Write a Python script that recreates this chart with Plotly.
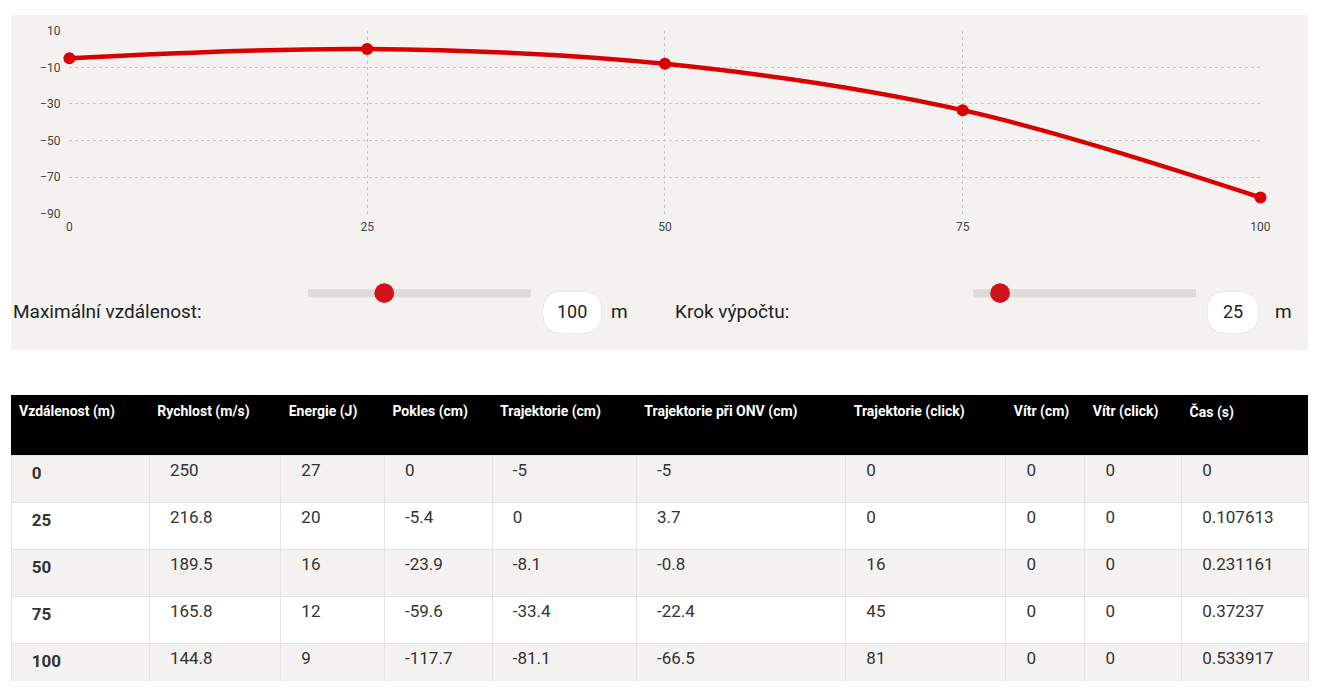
import plotly.graph_objects as go
import re

W, H = 1310, 681   # page body margin of 8px is accounted for in px/py
distance = [0, 25, 50, 75, 100]
trajectory = [-5, 0, -8.1, -33.4, -81.1]
speed = [250, 216.8, 189.5, 165.8, 144.8]
energy = [27, 20, 16, 12, 9]
drop = [0, -5.4, -23.9, -59.6, -117.7]
traj_onv = [-5, 3.7, -0.8, -22.4, -66.5]
traj_click = [0, 0, 16, 45, 81]
wind_cm = [0, 0, 0, 0, 0]
wind_click = [0, 0, 0, 0, 0]
time_s = [0, 0.107613, 0.231161, 0.37237, 0.533917]
headers = ["Vzdálenost (m)", "Rychlost (m/s)", "Energie (J)", "Pokles (cm)", "Trajektorie (cm)",
           "Trajektorie při ONV (cm)", "Trajektorie (click)", "Vítr (cm)", "Vítr (click)", "Čas (s)"]
y_ticks = [10, -10, -30, -50, -70, -90]

def px(x): return max(0.0, min(1.0, (x - 8) / W))
def py(y): return max(0.0, min(1.0, 1 - (y - 8) / H))

FONT = "Roboto, sans-serif"
fig = go.Figure()
fig.add_trace(go.Scatter(x=distance, y=trajectory, mode="lines+markers",
                         line=dict(color="#d90000", width=4.5, shape="spline"),
                         marker=dict(color="#d90000", size=12), cliponaxis=False,
                         showlegend=False, hoverinfo="skip"))

pad = "\u00a0" * 3
cols = [distance, speed, energy, drop, trajectory, traj_onv, traj_click, wind_cm, wind_click, time_s]
cells = [[pad + ("<b>%s</b>" % v if i == 0 else str(v)) for v in c] for i, c in enumerate(cols)]
widths = [140, 133, 105, 109, 146, 212, 162, 80, 98, 128]
fills = [["#f3f2f1", "#ffffff", "#f3f2f1", "#ffffff", "#f3f2f1"]] * 10
fig.add_trace(go.Table(
    domain=dict(x=[px(5), px(1318)], y=[py(692), py(396)]),
    columnwidth=widths,
    header=dict(values=["<b>%s</b>" % h.replace(" ", "\u00a0") for h in headers], fill_color="black", height=60,
                font=dict(color="white", size=14, family=FONT), align="left", line=dict(width=0, color="black")),
    cells=dict(values=cells, fill_color=fills, height=47, align="left",
               font=dict(color="#333333", size=17, family=FONT), line=dict(color="#e6e4e1", width=1)),
))

shapes = [dict(type="rect", xref="paper", yref="paper", x0=px(5), x1=px(1318), y0=py(350), y1=py(5),
               fillcolor="#f3f2f1", line_width=0, layer="below")]
for (a, b, k) in [(308, 533, 385), (980, 1205, 1007)]:
    shapes.append(dict(type="line", xref="paper", yref="paper", x0=px(a), x1=px(b), y0=py(292), y1=py(292),
                       line=dict(color="#dedbd6", width=8)))
    shapes.append(dict(type="circle", xref="paper", yref="paper", x0=px(k - 10), x1=px(k + 10),
                       y0=py(302), y1=py(282), fillcolor="#d0121b", line_width=0))
for (a, b) in [(545, 605), (1216, 1268)]:
    r = 20
    path = (f"M {a+r},{290} L {b-r},{290} Q {b},{290} {b},{290+r} L {b},{333-r} Q {b},{333} {b-r},{333} "
            f"L {a+r},{333} Q {a},{333} {a},{333-r} L {a},{290+r} Q {a},{290} {a+r},{290} Z")
    def conv(m):
        x, y = float(m.group(1)), float(m.group(2))
        return f"{px(x)},{py(y)}"
    path = re.sub(r"([\d.]+),([\d.]+)", conv, path)
    shapes.append(dict(type="path", xref="paper", yref="paper", path=path, fillcolor="white",
                       line=dict(color="#e8e6e3", width=1)))

ann = []
def t(x, y, s, size=19, anchor="left"):
    ann.append(dict(x=px(x), y=py(y), xref="paper", yref="paper", text=s, showarrow=False,
                    xanchor=anchor, yanchor="middle", font=dict(size=size, color="#222", family=FONT)))
t(6, 311, "Maximální vzdálenost:")
t(575, 311, "100", 18, "center")
t(612, 311, "m")
t(677, 311, "Krok výpočtu:")
t(1242, 311, "25", 18, "center")
t(1283, 311, "m")

fig.update_layout(
    width=W, height=H, margin=dict(l=0, r=0, t=0, b=0),
    paper_bgcolor="white", plot_bgcolor="rgba(0,0,0,0)",
    shapes=shapes, annotations=ann,
    xaxis=dict(domain=[px(67), px(1270)], range=[0, 100], tickvals=distance, showgrid=True,
               gridcolor="#c8c8c8", griddash="dot", zeroline=False, showline=False,
               tickfont=dict(size=12, color="#444", family=FONT), ticks="", ticklabelstandoff=4),
    yaxis=dict(domain=[py(211), py(24)], range=[-90, 10], tickvals=y_ticks, showgrid=True,
               gridcolor="#c8c8c8", griddash="dot", zeroline=False, showline=False,
               tickfont=dict(size=12, color="#444", family=FONT), ticks="", ticklabelstandoff=8),
)
fig.write_html("out.html")
